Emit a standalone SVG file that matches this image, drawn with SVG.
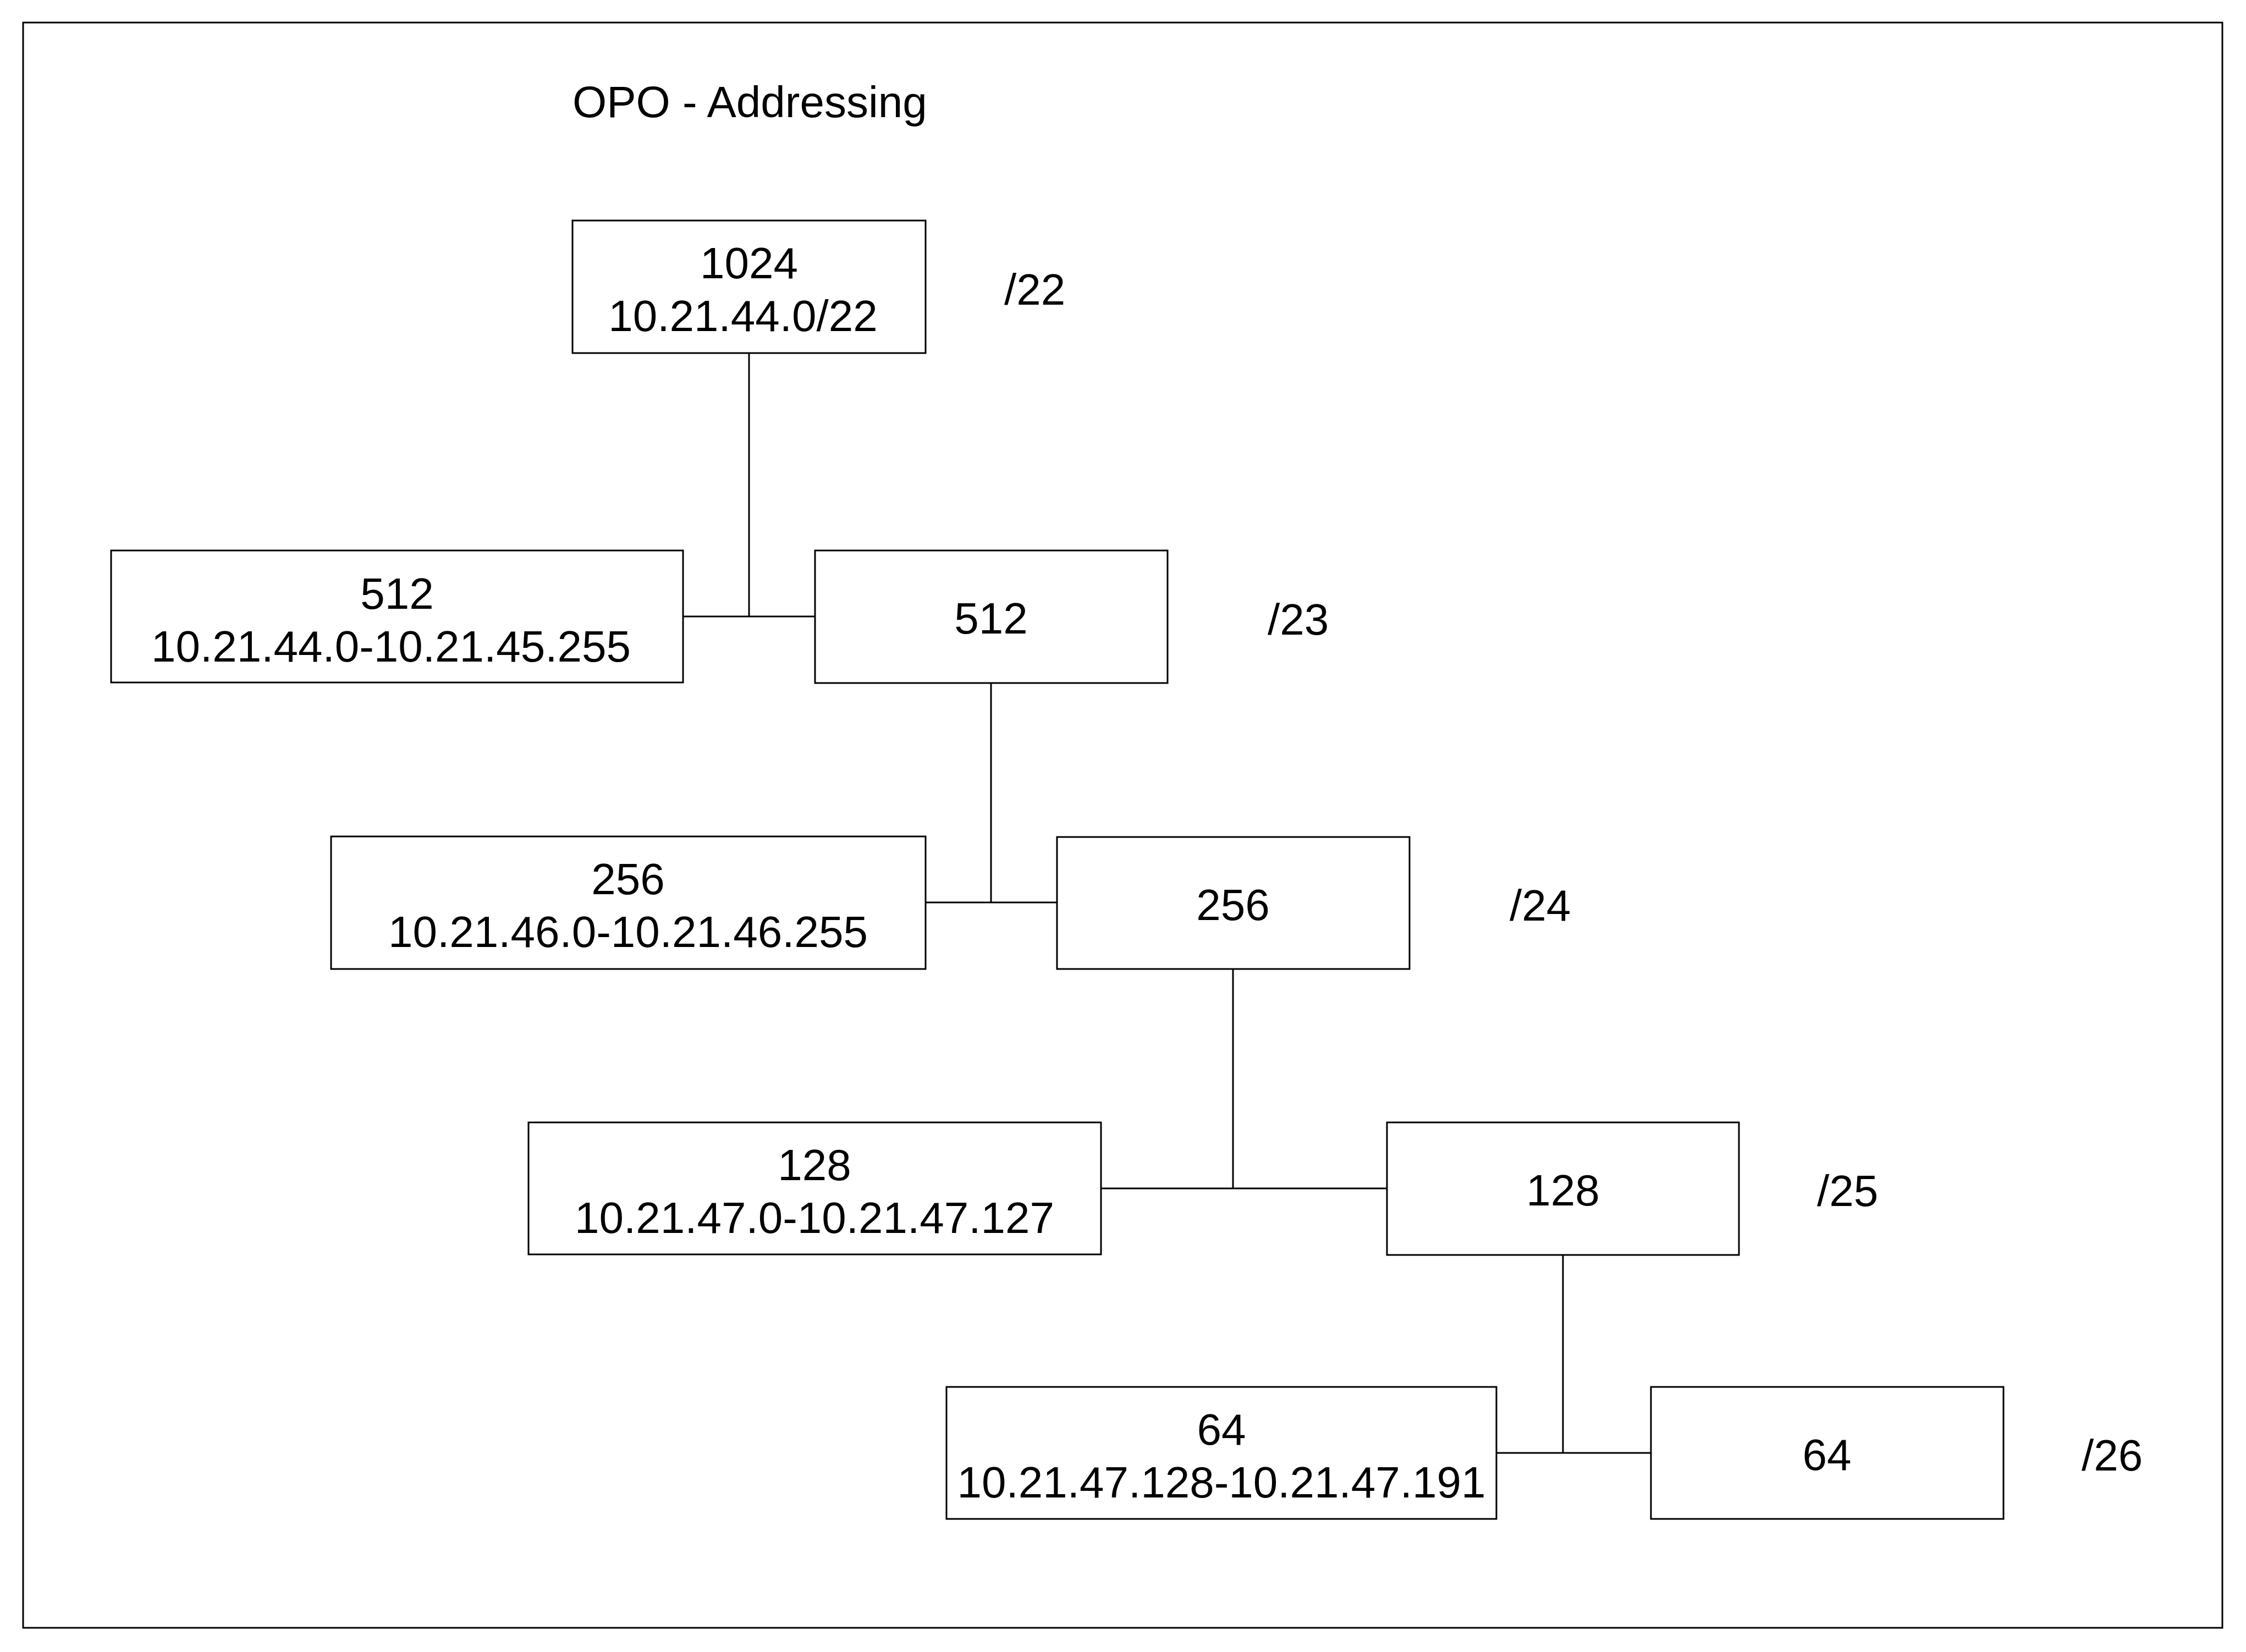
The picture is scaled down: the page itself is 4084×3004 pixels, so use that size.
<svg xmlns="http://www.w3.org/2000/svg" width="4084" height="3004" viewBox="0 0 4084 3004">
<style>
.box{fill:#fff;stroke:#000;stroke-width:3}
.t{font-family:"Liberation Sans",Arial,sans-serif;font-size:80px;fill:#000}
.c{text-anchor:middle}
.ln{fill:none;stroke:#000;stroke-width:3}
</style>
<rect x="0" y="0" width="4084" height="3004" fill="#fff"/>
<rect id="frame" x="42" y="41" width="3999" height="2919" fill="none" stroke="#000" stroke-width="3"/>
<text id="title" class="t" x="1041" y="213">OPO - Addressing</text>
<g id="connectors">
<path class="ln" d="M1362 642V1121M1243 1121H1482"/>
<path class="ln" d="M1802 1242V1641M1683 1641H1922"/>
<path class="ln" d="M2242 1762V2161M2002 2161H2522"/>
<path class="ln" d="M2842 2282V2642M2721 2642H3002"/>
</g>
<g id="n1024"><rect class="box" x="1041" y="401" width="642" height="241"/><text class="t c" x="1362" y="506">1024</text><text class="t c" x="1351" y="602">10.21.44.0/22</text></g>
<g id="n512a"><rect class="box" x="202" y="1001" width="1040" height="240"/><text class="t c" x="722" y="1107">512</text><text class="t c" x="711" y="1203">10.21.44.0-10.21.45.255</text></g>
<g id="n512b"><rect class="box" x="1482" y="1001" width="641" height="241"/><text class="t c" x="1802" y="1152">512</text></g>
<g id="n256a"><rect class="box" x="602" y="1521" width="1081" height="241"/><text class="t c" x="1142" y="1626">256</text><text class="t c" x="1142" y="1722">10.21.46.0-10.21.46.255</text></g>
<g id="n256b"><rect class="box" x="1922" y="1522" width="641" height="240"/><text class="t c" x="2242" y="1673">256</text></g>
<g id="n128a"><rect class="box" x="961" y="2041" width="1041" height="240"/><text class="t c" x="1481" y="2146">128</text><text class="t c" x="1481" y="2242">10.21.47.0-10.21.47.127</text></g>
<g id="n128b"><rect class="box" x="2522" y="2041" width="640" height="241"/><text class="t c" x="2842" y="2192">128</text></g>
<g id="n64a"><rect class="box" x="1721" y="2522" width="1000" height="240"/><text class="t c" x="2221" y="2627">64</text><text class="t c" x="2221" y="2723">10.21.47.128-10.21.47.191</text></g>
<g id="n64b"><rect class="box" x="3002" y="2522" width="641" height="240"/><text class="t c" x="3322" y="2673">64</text></g>
<g id="labels">
<text class="t" x="1826" y="554">/22</text>
<text class="t" x="2305" y="1154">/23</text>
<text class="t" x="2745" y="1674">/24</text>
<text class="t" x="3304" y="2193">/25</text>
<text class="t" x="3785" y="2674">/26</text>
</g>
</svg>
